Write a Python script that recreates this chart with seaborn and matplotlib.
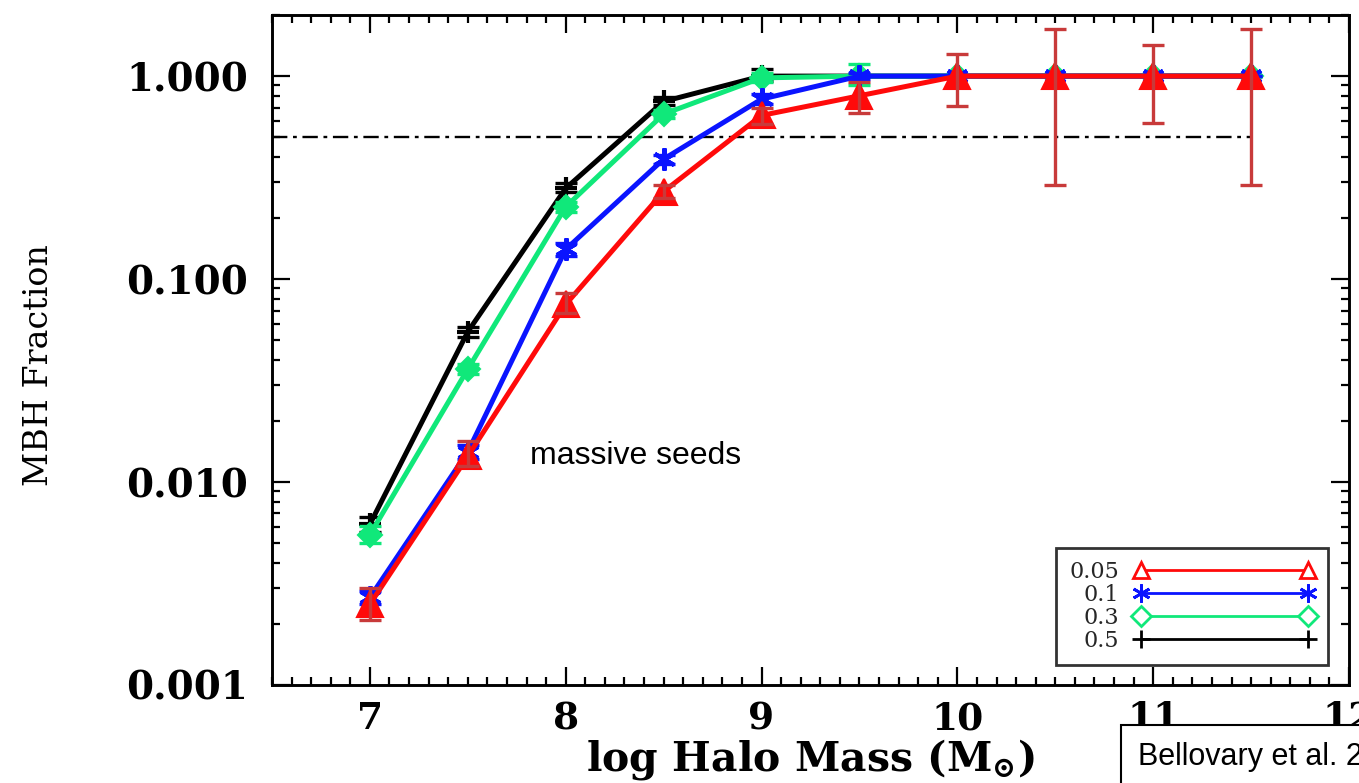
import numpy as np
import pandas as pd
import matplotlib
matplotlib.use("Agg")
import matplotlib.pyplot as plt
from matplotlib.ticker import MultipleLocator, FixedLocator, FixedFormatter, LogLocator, NullFormatter
from matplotlib.lines import Line2D
import seaborn as sns

# ---------------- data ----------------
halo_mass = [7.0, 7.5, 8.0, 8.5, 9.0, 9.5, 10.0, 10.5, 11.0, 11.5]
labels = ["0.05", "0.1", "0.3", "0.5"]

frac_005 = [0.0025, 0.0134, 0.075, 0.27, 0.64, 0.80, 1.0, 1.0, 1.0, 1.0]
lo_005   = [0.0021, 0.0120, 0.068, 0.25, 0.58, 0.66, 0.71, 0.29, 0.59, 0.29]
hi_005   = [0.0030, 0.0160, 0.085, 0.29, 0.70, 0.93, 1.28, 1.70, 1.42, 1.70]

frac_01 = [0.0027, 0.0141, 0.140, 0.39, 0.77, 1.0, 1.0, 1.0, 1.0, 1.0]
lo_01   = [0.0025, 0.0130, 0.130, 0.37, 0.73, 0.97, 1.0, 1.0, 1.0, 1.0]
hi_01   = [0.0029, 0.0152, 0.150, 0.41, 0.82, 1.03, 1.0, 1.0, 1.0, 1.0]

frac_03 = [0.0055, 0.036, 0.227, 0.65, 0.98, 1.0, 1.0, 1.0, 1.0, 1.0]
lo_03   = [0.0050, 0.034, 0.215, 0.62, 0.93, 0.90, 1.0, 1.0, 1.0, 1.0]
hi_03   = [0.0061, 0.038, 0.240, 0.68, 1.03, 1.15, 1.0, 1.0, 1.0, 1.0]

frac_05 = [0.0062, 0.055, 0.280, 0.75, 1.0, 1.0, 1.0, 1.0, 1.0, 1.0]
lo_05   = [0.0057, 0.052, 0.268, 0.72, 0.95, 1.0, 1.0, 1.0, 1.0, 1.0]
hi_05   = [0.0067, 0.058, 0.298, 0.79, 1.08, 1.0, 1.0, 1.0, 1.0, 1.0]

threshold = 0.5
ytick_vals = [0.001, 0.01, 0.1, 1.0]
ytick_labels = ["0.001", "0.010", "0.100", "1.000"]
xtick_vals = [7, 8, 9, 10, 11, 12]

# ---------------- style ----------------
sns.set_theme(style="ticks")
plt.rcParams["font.family"] = ["DejaVu Serif"]
plt.rcParams["mathtext.fontset"] = "dejavuserif"

fig = plt.figure(figsize=(13.59, 7.83), dpi=100)
ax = fig.add_axes([272 / 1359, 1 - 685 / 783, (1349 - 272) / 1359, (685 - 15) / 783])

series = [
    # label, y, lo, hi, color, errcolor, marker, ms, mew
    ("0.5", frac_05, lo_05, hi_05, "black", "black", "+", 16, 3.0),
    ("0.3", frac_03, lo_03, hi_03, "#10e87a", "#10e87a", "D", 12, 1.5),
    ("0.1", frac_01, lo_01, hi_01, "#0a14ff", "#0a14ff", (6, 2, 0), 16, 3.0),
    ("0.05", frac_005, lo_005, hi_005, "#ff0a0a", "#c83a3a", "^", 19, 1.5),
]

for i, (lab, y, lo, hi, c, ec, m, ms, mew) in enumerate(series):
    df = pd.DataFrame({"mass": halo_mass, "frac": y})
    sns.lineplot(data=df, x="mass", y="frac", ax=ax, color=c, linewidth=3.6,
                 marker=m, markersize=ms, markeredgecolor=c, markerfacecolor=c,
                 markeredgewidth=mew, legend=False, zorder=3 + i)
    y_arr = np.array(y)
    yerr = np.vstack([y_arr - np.array(lo), np.array(hi) - y_arr])
    ax.errorbar(halo_mass, y, yerr=yerr, fmt="none", ecolor=ec, elinewidth=2.4,
                capsize=8, capthick=2.4, zorder=3.5 + i)

ax.hlines(threshold, 6.5, 11.5, colors="black", linewidth=1.7,
          linestyles=(0, (6.5, 2.4, 1.6, 2.4)), zorder=2)

ax.set_yscale("log")
ax.set_xlim(6.5, 12.0)
ax.set_ylim(0.001, 2.0)

ax.xaxis.set_major_locator(FixedLocator(xtick_vals))
ax.xaxis.set_minor_locator(MultipleLocator(0.1))
ax.yaxis.set_major_locator(FixedLocator(ytick_vals))
ax.yaxis.set_major_formatter(FixedFormatter(ytick_labels))
ax.yaxis.set_minor_locator(LogLocator(base=10, subs=np.arange(2, 10)))
ax.yaxis.set_minor_formatter(NullFormatter())

ax.tick_params(which="both", direction="in", top=True, right=True, color="black", width=1.6)
ax.tick_params(which="major", length=13)
ax.tick_params(which="minor", length=6)
ax.tick_params(axis="x", which="major", pad=11)
ax.tick_params(axis="y", which="major", pad=17)
for lbl in ax.get_xticklabels():
    lbl.set_fontweight("bold")
    lbl.set_fontsize(27)
    lbl.set_color("black")
for lbl in ax.get_yticklabels():
    lbl.set_fontweight("bold")
    lbl.set_fontsize(28)
    lbl.set_color("black")

for sp in ax.spines.values():
    sp.set_linewidth(2.1)
    sp.set_color("black")

ax.set_xlabel(r"log Halo Mass (M$_{\mathbf{\odot}}$)", fontsize=29.5, fontweight="bold",
              color="black", labelpad=0)
ax.set_ylabel("MBH Fraction", fontsize=24, color="black")
ax.yaxis.set_label_coords((55 - 272) / 1077, (685 - 365) / 670)

ax.text(7.816, 0.0134, "massive seeds", family="Liberation Sans", fontsize=23,
        ha="left", va="center", color="black")

# legend
handles = []
for lab, y, lo, hi, c, ec, m, ms, mew in series[::-1]:
    if m in ("^", "D"):
        h = Line2D([], [], color=c, linewidth=2, marker=m, markersize=12 if m == "^" else 10,
                   markerfacecolor="white", markeredgecolor=c, markeredgewidth=2)
    else:
        h = Line2D([], [], color=c, linewidth=2, marker=m, markersize=13,
                   markeredgecolor=c, markeredgewidth=2)
    handles.append(h)
leg = ax.legend(handles, labels, loc="lower right", bbox_to_anchor=(0.9805, 0.03),
                numpoints=2, markerfirst=False, handlelength=8.1, handletextpad=0.7,
                labelspacing=0.04, fontsize=16, frameon=True, fancybox=False,
                borderpad=0.6, borderaxespad=0.0)
leg.get_frame().set_edgecolor("black")
leg.get_frame().set_linewidth(2.0)
leg.get_frame().set_facecolor("white")

fig.text(1138 / 1359, 1 - 757 / 783, "Bellovary et al. 2011", family="Liberation Sans",
         fontsize=22, ha="left", va="center", color="black",
         bbox=dict(boxstyle="square,pad=0.55", facecolor="white", edgecolor="black", linewidth=1.5))

fig.savefig("out.png", dpi=100)
